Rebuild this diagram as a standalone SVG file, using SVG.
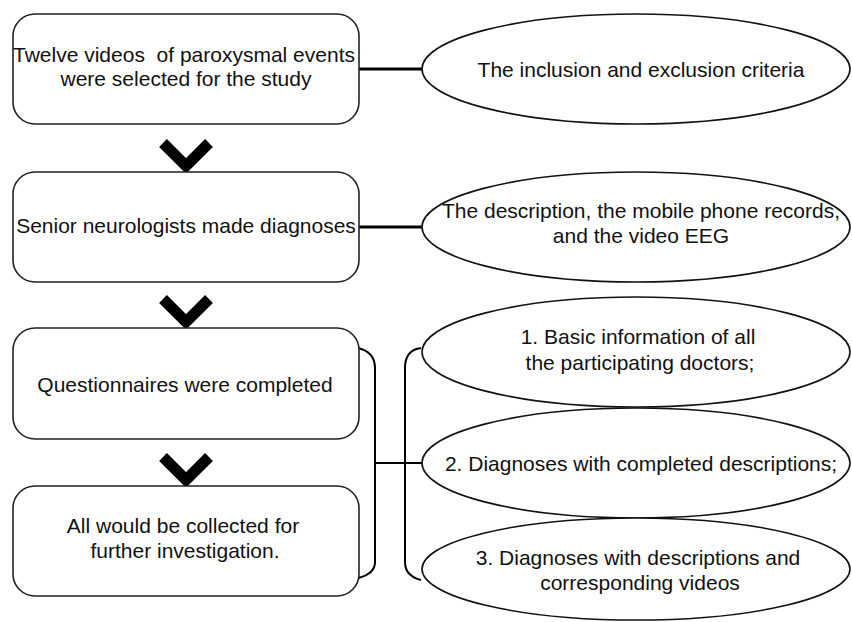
<svg xmlns="http://www.w3.org/2000/svg" width="852" height="622" viewBox="0 0 852 622">
<style>
.box{fill:#fff;stroke:#222;stroke-width:1.6}
.ell{fill:#fff;stroke:#111;stroke-width:1.6}
.t{font-family:"Liberation Sans",Arial,sans-serif;font-size:21px;fill:#111;text-anchor:middle;white-space:pre}
.chev{fill:none;stroke:#000;stroke-width:11;stroke-linejoin:miter;stroke-linecap:butt}
.thick{fill:none;stroke:#000;stroke-width:3.2}
.br{fill:none;stroke:#000;stroke-width:2}
</style>
<rect width="852" height="622" fill="#fff"/>
<g id="connectors">
<line class="thick" x1="359" y1="69" x2="423" y2="69"/>
<line class="thick" x1="359" y1="227" x2="423" y2="227"/>
<path class="br" d="M358,348 Q375,352 375,368 L375,562 Q375,574 358,578"/>
<path class="br" d="M421,348 Q405,350 405,368 L405,562 Q405,576 421,580"/>
<line class="br" x1="375" y1="463" x2="422" y2="463"/>
<polyline class="chev" points="163,143 186,166 209,143"/>
<polyline class="chev" points="163,299 186,322 209,299"/>
<polyline class="chev" points="163,457 186,480 209,457"/>
</g>
<g id="n1">
<rect class="box" x="13" y="14" width="346" height="110" rx="22"/>
<text class="t" x="184" y="62">Twelve videos  of paroxysmal events</text>
<text class="t" x="186" y="86">were selected for the study</text>
</g>
<g id="n2">
<rect class="box" x="13" y="172" width="346" height="110" rx="22"/>
<text class="t" x="186" y="233">Senior neurologists made diagnoses</text>
</g>
<g id="n3">
<rect class="box" x="13" y="328" width="346" height="111" rx="22"/>
<text class="t" x="185" y="392">Questionnaires were completed</text>
</g>
<g id="n4">
<rect class="box" x="13" y="486" width="346" height="110" rx="22"/>
<text class="t" x="183" y="533">All would be collected for</text>
<text class="t" x="185" y="558">further investigation.</text>
</g>
<g id="e1">
<ellipse class="ell" cx="636" cy="69" rx="214" ry="55"/>
<text class="t" x="641" y="77">The inclusion and exclusion criteria</text>
</g>
<g id="e2">
<ellipse class="ell" cx="636" cy="227" rx="214" ry="55"/>
<text class="t" x="641" y="218">The description, the mobile phone records,</text>
<text class="t" x="641" y="243">and the video EEG</text>
</g>
<g id="e3">
<ellipse class="ell" cx="636" cy="352" rx="214" ry="55"/>
<text class="t" x="638" y="344">1. Basic information of all</text>
<text class="t" x="640" y="370">the participating doctors;</text>
</g>
<g id="e4">
<ellipse class="ell" cx="636" cy="463" rx="214" ry="55"/>
<text class="t" x="641" y="471">2. Diagnoses with completed descriptions;</text>
</g>
<g id="e5">
<ellipse class="ell" cx="636" cy="569" rx="214" ry="51"/>
<text class="t" x="638" y="565">3. Diagnoses with descriptions and</text>
<text class="t" x="640" y="590">corresponding videos</text>
</g>
</svg>
